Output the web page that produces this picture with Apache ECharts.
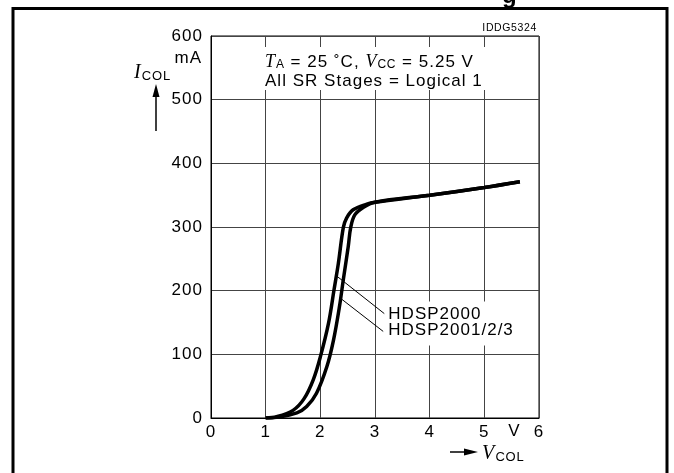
<!DOCTYPE html>
<html><head><meta charset="utf-8">
<script src="https://cdn.jsdelivr.net/npm/echarts@6.0.0/dist/echarts.min.js"></script>
<style>html,body{margin:0;padding:0;background:#fff}#c{width:674px;height:473px}</style>
</head><body><div id="c"></div>
<script>
// ---- data ----
const xMin = 0, xMax = 6, xStep = 1;
const yMin = 0, yMax = 600, yStep = 100;
const seriesNames = ['HDSP2000', 'HDSP2001/2/3'];
const hdsp2000V = [1.0, 1.2, 1.5, 1.7, 1.87, 2.0, 2.15, 2.25, 2.33, 2.42, 2.48, 2.6, 2.85, 3.0, 4.0, 5.0, 5.65];
const hdsp2000I = [0, 2, 12, 30, 60, 96, 149, 201, 243, 299, 314, 327, 336, 339, 350, 362, 371];
const hdsp2001V = [1.0, 1.2, 1.57, 1.75, 1.93, 2.12, 2.24, 2.35, 2.42, 2.51, 2.555, 2.63, 2.79, 3.0, 4.0, 5.0, 5.65];
const hdsp2001I = [0, 1, 8, 18, 39, 81, 122, 175, 217, 269, 299, 319, 331, 339, 350, 362, 371];
// leader lines: [curve point, label point] in data units
const leader2000 = [[2.27, 225], [3.17, 164]];
const leader2001 = [[2.37, 188], [3.15, 136]];
const unitX = 5.55;

// slightly wide lettering like the original print
(function () {
  const proto = CanvasRenderingContext2D.prototype;
  const d = Object.getOwnPropertyDescriptor(proto, 'font');
  if (!d || !('letterSpacing' in proto)) return;
  Object.defineProperty(proto, 'font', {
    configurable: true,
    get: function () { return d.get.call(this); },
    set: function (v) {
      d.set.call(this, v);
      const m = /([\d.]+)px/.exec(v);
      const sz = m ? parseFloat(m[1]) : 12;
      this.letterSpacing = (sz * 0.06).toFixed(2) + 'px';
    }
  });
})();

const SANS = 'Liberation Sans';
const SERIF = 'Liberation Serif';
const chart = echarts.init(document.getElementById('c'), null, {renderer: 'canvas'});

function zip(a, b) { return a.map((v, i) => [v, b[i]]); }

const axisCommon = {
  type: 'value',
  axisLine: {show: true, lineStyle: {color: '#000', width: 1}},
  axisTick: {show: false},
  splitLine: {show: true, lineStyle: {color: '#444', width: 1}},
  axisLabel: {color: '#000', fontSize: 17, fontFamily: SANS}
};

chart.setOption({
  animation: false,
  backgroundColor: '#fff',
  grid: {left: 211, top: 36, right: 135, bottom: 55, show: true, borderColor: '#000', borderWidth: 1, backgroundColor: 'transparent'},
  xAxis: Object.assign({}, axisCommon, {min: xMin, max: xMax, interval: xStep,
    axisLabel: Object.assign({}, axisCommon.axisLabel, {margin: 5})}),
  yAxis: Object.assign({}, axisCommon, {min: yMin, max: yMax, interval: yStep,
    axisLabel: Object.assign({}, axisCommon.axisLabel, {margin: 8})}),
  series: [
    {name: seriesNames[0], type: 'line', data: zip(hdsp2000V, hdsp2000I), showSymbol: false, smooth: 0.35,
     lineStyle: {color: '#000', width: 3.5}, z: 5},
    {name: seriesNames[1], type: 'line', data: zip(hdsp2001V, hdsp2001I), showSymbol: false, smooth: 0.35,
     lineStyle: {color: '#000', width: 3.5}, z: 5}
  ]
});

const P = (p) => chart.convertToPixel({gridIndex: 0}, p);
const l1a = P(leader2000[0]), l1b = P(leader2000[1]);
const l2a = P(leader2001[0]), l2b = P(leader2001[1]);
const uPos = P([unitX, 0]);

const sub = {fontSize: 12, fontFamily: SANS, lineHeight: 10, verticalAlign: 'bottom', fill: '#000'};
chart.setOption({
  graphic: [
    // outer frame
    {type: 'rect', z: 10, shape: {x: 13, y: 8.5, width: 654, height: 500}, style: {fill: 'none', stroke: '#000', lineWidth: 3}},
    // cut-off title fragment
    {type: 'text', z: 10, x: 502, y: 9, style: {text: 'g', font: 'bold 24px ' + SANS, fill: '#000', verticalAlign: 'bottom'}},
    {type: 'text', z: 10, x: 537, y: 28, style: {text: 'IDDG5324', font: '10.5px ' + SANS, fill: '#000', align: 'right', verticalAlign: 'middle'}},
    // condition box
    {type: 'rect', z: 3, shape: {x: 257, y: 47, width: 233, height: 43}, style: {fill: '#fff'}},
    {type: 'text', z: 10, x: 265, y: 62, style: {
      text: '{i|T}{s|A}{n| = 25 ˚C, }{i|V}{s|CC}{n| = 5.25 V}', verticalAlign: 'middle',
      rich: {i: {font: 'italic 18px ' + SERIF, lineHeight: 18, fill: '#000'}, n: {font: '17px ' + SANS, lineHeight: 18, fill: '#000'}, s: sub}}},
    {type: 'text', z: 10, x: 265, y: 81, style: {text: 'All SR Stages = Logical 1', font: '17px ' + SANS, fill: '#000', verticalAlign: 'middle'}},
    // label box
    {type: 'rect', z: 3, shape: {x: l1b[0], y: l1b[1] - 12, width: 140, height: 44}, style: {fill: '#fff'}},
    {type: 'line', z: 10, shape: {x1: l1a[0], y1: l1a[1], x2: l1b[0], y2: l1b[1]}, style: {stroke: '#000', lineWidth: 1}},
    {type: 'line', z: 10, shape: {x1: l2a[0], y1: l2a[1], x2: l2b[0], y2: l2b[1]}, style: {stroke: '#000', lineWidth: 1}},
    {type: 'text', z: 10, x: l1b[0] + 4, y: l1b[1] + 1, style: {text: seriesNames[0], font: '17px ' + SANS, fill: '#000', verticalAlign: 'middle'}},
    {type: 'text', z: 10, x: l2b[0] + 5, y: l2b[1] - 1, style: {text: seriesNames[1], font: '17px ' + SANS, fill: '#000', verticalAlign: 'middle'}},
    // y axis title
    {type: 'text', z: 10, x: 202, y: 58, style: {text: 'mA', font: '17px ' + SANS, fill: '#000', align: 'right', verticalAlign: 'middle'}},
    {type: 'text', z: 10, x: 134, y: 73, style: {text: '{i|I}{s|COL}', verticalAlign: 'middle',
      rich: {i: {font: 'italic 20px ' + SERIF, lineHeight: 20, fill: '#000'}, s: Object.assign({}, sub, {fontSize: 13})}}},
    {type: 'line', z: 10, shape: {x1: 156, y1: 131, x2: 156, y2: 94}, style: {stroke: '#000', lineWidth: 1.5}},
    {type: 'polygon', z: 10, shape: {points: [[156, 84], [152.5, 97], [159.5, 97]]}, style: {fill: '#000'}},
    // x axis unit + title
    {type: 'text', z: 10, x: uPos[0], y: uPos[1] + 13, style: {text: 'V', font: '17px ' + SANS, fill: '#000', align: 'center', verticalAlign: 'middle'}},
    {type: 'line', z: 10, shape: {x1: 450, y1: 452, x2: 466, y2: 452}, style: {stroke: '#000', lineWidth: 1.5}},
    {type: 'polygon', z: 10, shape: {points: [[478, 452], [464, 448.5], [464, 455.5]]}, style: {fill: '#000'}},
    {type: 'text', z: 10, x: 482, y: 454, style: {text: '{i|V}{s|COL}', verticalAlign: 'middle',
      rich: {i: {font: 'italic 20px ' + SERIF, lineHeight: 20, fill: '#000'}, s: Object.assign({}, sub, {fontSize: 13})}}}
  ]
});
</script>
</body></html>
